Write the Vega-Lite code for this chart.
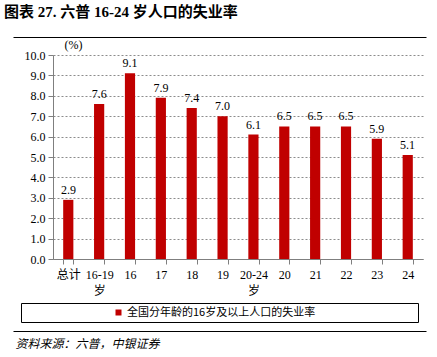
{
  "$schema": "https://vega.github.io/schema/vega-lite/v6.json",
  "width": 370,
  "height": 204,
  "autosize": {"type": "none"},
  "padding": {"left": 53, "top": 55, "right": 14, "bottom": 98},
  "background": "#ffffff",
  "title": {
    "text": "图表 27. 六普 16-24 岁人口的失业率",
    "anchor": "start",
    "frame": "group",
    "dx": -49,
    "offset": 17,
    "font": "Liberation Serif, Noto Sans CJK SC",
    "fontSize": 15,
    "fontWeight": "bold",
    "color": "#000000"
  },
  "config": {
    "view": {"stroke": null},
    "axis": {
      "labelFont": "Liberation Serif, Noto Sans CJK SC",
      "labelFontSize": 12,
      "labelColor": "#000000",
      "domainColor": "#7f7f7f",
      "tickColor": "#7f7f7f",
      "titleFont": "Liberation Serif, Noto Sans CJK SC",
      "titleFontWeight": "normal",
      "titleColor": "#000000"
    }
  },
  "data": {
    "values": [
      {"cat": "总计", "v": 2.9, "s": "全国分年龄的16岁及以上人口的失业率"},
      {"cat": "16-19 岁", "v": 7.6, "s": "全国分年龄的16岁及以上人口的失业率"},
      {"cat": "16", "v": 9.1, "s": "全国分年龄的16岁及以上人口的失业率"},
      {"cat": "17", "v": 7.9, "s": "全国分年龄的16岁及以上人口的失业率"},
      {"cat": "18", "v": 7.4, "s": "全国分年龄的16岁及以上人口的失业率"},
      {"cat": "19", "v": 7.0, "s": "全国分年龄的16岁及以上人口的失业率"},
      {"cat": "20-24 岁", "v": 6.1, "s": "全国分年龄的16岁及以上人口的失业率"},
      {"cat": "20", "v": 6.5, "s": "全国分年龄的16岁及以上人口的失业率"},
      {"cat": "21", "v": 6.5, "s": "全国分年龄的16岁及以上人口的失业率"},
      {"cat": "22", "v": 6.5, "s": "全国分年龄的16岁及以上人口的失业率"},
      {"cat": "23", "v": 5.9, "s": "全国分年龄的16岁及以上人口的失业率"},
      {"cat": "24", "v": 5.1, "s": "全国分年龄的16岁及以上人口的失业率"}
    ]
  },
  "encoding": {
    "y": {
      "field": "v",
      "type": "quantitative",
      "scale": {"domain": [0, 10]},
      "axis": {
        "values": [0, 1, 2, 3, 4, 5, 6, 7, 8, 9, 10],
        "format": ".1f",
        "tickSize": 5,
        "labelPadding": 3,
        "grid": true,
        "gridDash": [2, 2],
        "gridColor": "#8c8c8c",
        "title": "(%)",
        "titleAngle": 0,
        "titleFontSize": 12,
        "titleAlign": "center",
        "titleBaseline": "middle",
        "titleX": 20,
        "titleY": -11
      }
    }
  },
  "resolve": {"scale": {"x": "independent"}, "axis": {"x": "independent"}},
  "layer": [
    {
      "mark": {"type": "bar", "color": "#c00000"},
      "encoding": {
        "x": {
          "field": "cat",
          "type": "nominal",
          "sort": null,
          "scale": {"paddingInner": 0.67, "paddingOuter": 0.33},
          "axis": {
            "labelAngle": 0,
            "labelExpr": "split(datum.label, ' ')",
            "labelPadding": 5,
            "labelLineHeight": 16,
            "tickBand": "extent",
            "tickSize": 5,
            "title": "资料来源：六普，中银证券",
            "titleFont": "Noto Sans CJK SC",
            "titleFontSize": 12,
            "titleFontStyle": "italic",
            "titleAnchor": "start",
            "titleAlign": "left",
            "titleBaseline": "middle",
            "titleX": -38,
            "titleY": 84
          }
        },
        "color": {
          "field": "s",
          "type": "nominal",
          "scale": {"range": ["#c00000"]},
          "legend": {
            "orient": "none",
            "legendX": -32,
            "legendY": 248,
            "direction": "horizontal",
            "title": "\u3000",
            "titleOrient": "right",
            "titlePadding": 99,
            "titleFontSize": 11,
            "symbolType": "square",
            "symbolSize": 36,
            "symbolOffset": 88,
            "symbolStrokeWidth": 0,
            "labelFont": "Noto Sans CJK SC",
            "labelFontSize": 11,
            "labelColor": "#000000",
            "labelLimit": 400,
            "labelOffset": 3,
            "strokeColor": "#000000",
            "padding": 4
          }
        }
      }
    },
    {
      "mark": {
        "type": "text",
        "dy": -10,
        "font": "Liberation Serif",
        "fontSize": 12,
        "color": "#000000"
      },
      "encoding": {
        "x": {
          "field": "cat",
          "type": "nominal",
          "sort": null,
          "scale": {"paddingInner": 0.67, "paddingOuter": 0.33},
          "axis": null
        },
        "text": {"field": "v", "type": "quantitative", "format": ".1f"}
      }
    },
    {
      "mark": {"type": "text"},
      "encoding": {
        "x": {
          "field": "cat",
          "type": "nominal",
          "sort": null,
          "scale": {"range": [-40, 373]},
          "axis": {
            "orient": "top",
            "offset": 18,
            "labels": false,
            "ticks": false,
            "grid": false,
            "title": null,
            "domainColor": "#000000",
            "domainWidth": 1
          }
        },
        "text": {"value": ""}
      }
    },
    {
      "mark": {"type": "text"},
      "encoding": {
        "x": {
          "field": "cat",
          "type": "nominal",
          "sort": null,
          "scale": {"range": [-40, 373]},
          "axis": {
            "orient": "bottom",
            "offset": 72,
            "labels": false,
            "ticks": false,
            "grid": false,
            "title": null,
            "domainColor": "#000000",
            "domainWidth": 1
          }
        },
        "text": {"value": ""}
      }
    }
  ]
}
